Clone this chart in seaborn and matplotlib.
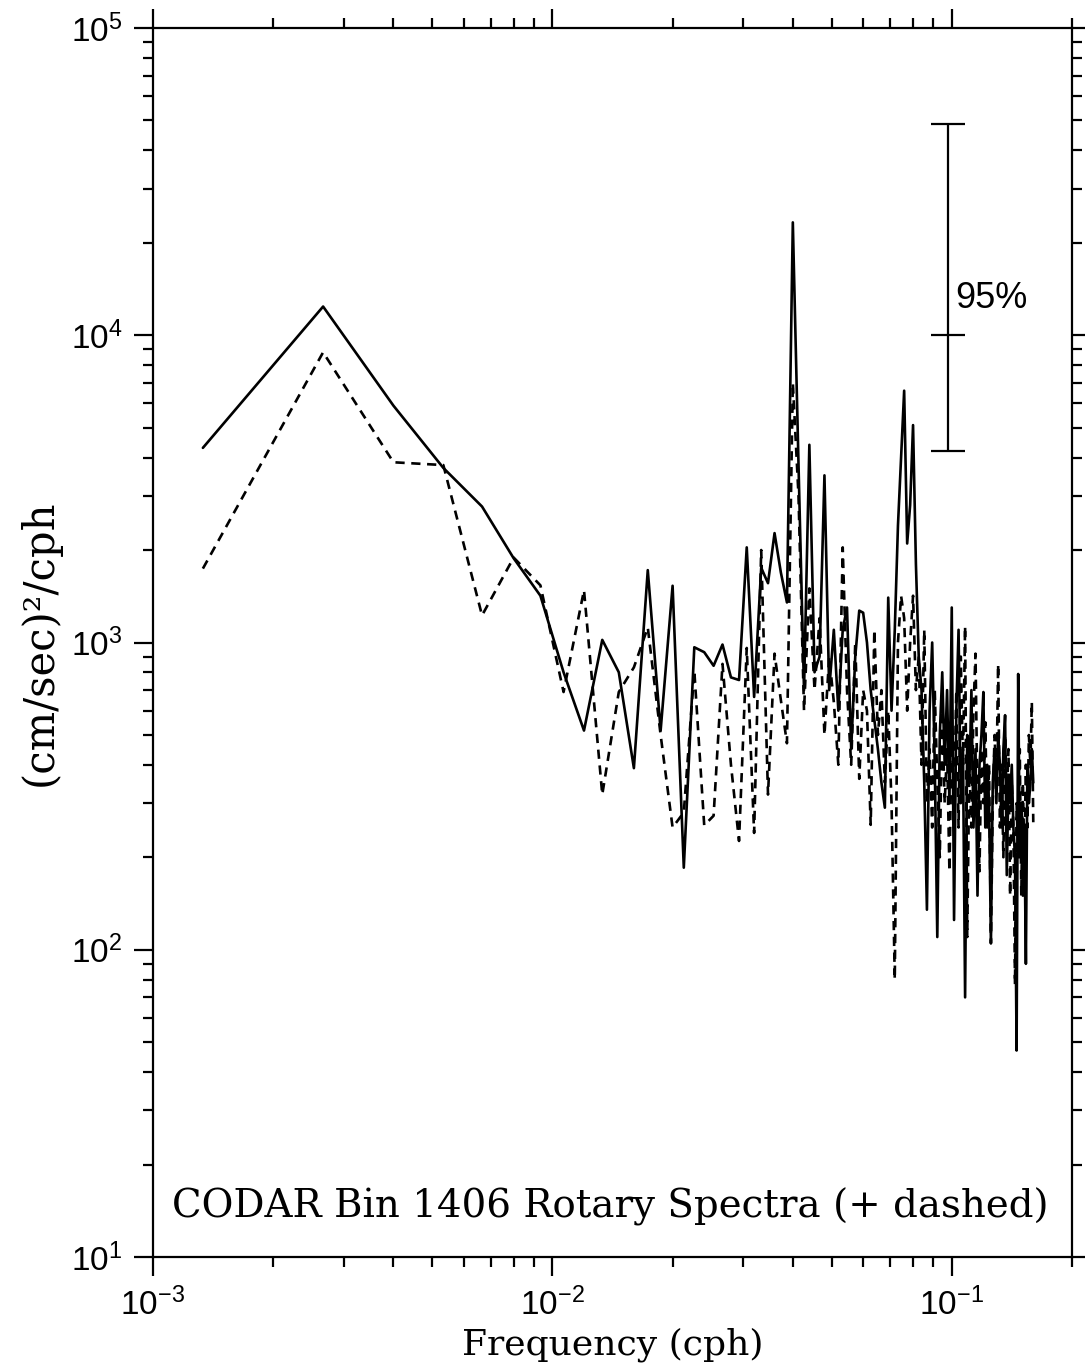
import numpy as np
import pandas as pd
import matplotlib
matplotlib.use("Agg")
import matplotlib.pyplot as plt
import seaborn as sns

# Spectral bins: harmonics of a 750-hour record, 120 bins
record_hours = 750
bin_index = np.arange(1, 121)

# Clockwise (solid) rotary spectrum, (cm/sec)^2/cph
spec_minus = [
    4300, 12400, 5900, 3700, 2770, 1880, 1420, 800, 517, 1020,
    800, 390, 1720, 517, 1530, 185, 965, 930, 840, 985,
    770, 755, 2040, 665, 1750, 1560, 2270, 1690, 1350, 23300,
    3800, 700, 4400, 800, 900, 3500, 700, 1100, 600, 1100,
    1300, 450, 900, 1270, 1250, 1000, 700, 560, 450, 350,
    290, 1400, 600, 1100, 2400, 4000, 6600, 2100, 2800, 5100,
    1800, 900, 700, 350, 135, 600, 1000, 400, 110, 500,
    800, 400, 700, 300, 1300, 125, 600, 1100, 300, 450,
    70, 500, 350, 700, 250, 450, 150, 400, 500, 690,
    250, 400, 300, 105, 350, 450, 300, 500, 400, 250,
    450, 580, 175, 350, 300, 400, 250, 200, 47, 790,
    200, 300, 150, 250, 90, 400, 300, 350, 450, 350,
]

# Counter-clockwise (+, dashed) rotary spectrum
spec_plus = [
    1740, 8800, 3860, 3780, 1225, 1890, 1535, 690, 1480, 320,
    690, 830, 1120, 500, 250, 280, 810, 254, 273, 852,
    400, 226, 960, 240, 2000, 320, 920, 650, 470, 7000,
    3000, 600, 1500, 700, 1200, 500, 900, 640, 400, 2040,
    700, 400, 1000, 360, 700, 600, 255, 1100, 500, 700,
    350, 600, 300, 80, 1000, 1420, 1200, 600, 1000, 1420,
    700, 900, 400, 1100, 300, 450, 250, 700, 350, 200,
    600, 300, 450, 180, 500, 300, 700, 250, 900, 400,
    1130, 110, 400, 250, 600, 920, 300, 180, 450, 300,
    550, 250, 400, 105, 300, 500, 350, 850, 250, 400,
    200, 500, 300, 450, 150, 350, 250, 77, 300, 200,
    450, 150, 350, 200, 400, 250, 500, 400, 640, 260,
]

# 95% confidence interval bar
ci_freq = 0.098
ci_center = 1.0e4
ci_low, ci_high = 4200, 48700

x_ticks = [1e-3, 1e-2, 1e-1]
x_tick_labels = [r"$\mathregular{10^{-3}}$", r"$\mathregular{10^{-2}}$", r"$\mathregular{10^{-1}}$"]
y_ticks = [1e1, 1e2, 1e3, 1e4, 1e5]
y_tick_labels = [r"$\mathregular{10^{%d}}$" % p for p in range(1, 6)]

freq = bin_index / record_hours
df = pd.DataFrame({"freq": freq, "minus": spec_minus, "plus": spec_plus})

sns.set_theme(style="ticks")
plt.rcParams["font.family"] = ["Liberation Sans", "DejaVu Sans"]
plt.rcParams["mathtext.fontset"] = "custom"
plt.rcParams["mathtext.rm"] = "Liberation Sans"
plt.rcParams["text.color"] = "black"
plt.rcParams["axes.labelcolor"] = "black"
plt.rcParams["xtick.color"] = "black"
plt.rcParams["ytick.color"] = "black"

fig = plt.figure(figsize=(10.85, 13.72), dpi=100)
ax = fig.add_axes([0.141, 0.0838, 0.847, 0.8958])

sns.lineplot(data=df, x="freq", y="minus", ax=ax, color="black", lw=1.9,
             sort=False, estimator=None)
sns.lineplot(data=df, x="freq", y="plus", ax=ax, color="black", lw=1.9,
             sort=False, estimator=None, dashes=False, linestyle=(0, (3.5, 2.5)))

ax.set_xscale("log")
ax.set_yscale("log")
ax.set_xlim(1e-3, 0.2)
ax.set_ylim(10, 1e5)

ax.errorbar([ci_freq], [ci_center],
            yerr=[[ci_center - ci_low], [ci_high - ci_center]],
            fmt="_", color="black", ms=24, mew=1.6, elinewidth=1.6,
            capsize=12, capthick=1.6)
ax.text(0.1022, 12300, "95%", fontsize=26, ha="left", va="baseline",
        color="black", family=["Liberation Sans", "DejaVu Sans"])

ax.text(0.0207, 0.0325, "CODAR Bin 1406 Rotary Spectra (+ dashed)",
        transform=ax.transAxes, fontsize=27.9, ha="left", va="baseline",
        color="black", family=["DejaVu Serif"])

ax.set_xticks(x_ticks)
ax.set_xticklabels(x_tick_labels)
ax.set_yticks(y_ticks)
ax.set_yticklabels(y_tick_labels)
ax.xaxis.set_minor_locator(matplotlib.ticker.LogLocator(base=10, subs=np.arange(2, 10)))
ax.yaxis.set_minor_locator(matplotlib.ticker.LogLocator(base=10, subs=np.arange(2, 10)))
ax.xaxis.set_minor_formatter(matplotlib.ticker.NullFormatter())
ax.yaxis.set_minor_formatter(matplotlib.ticker.NullFormatter())

ax.tick_params(which="both", direction="out", top=True, right=True,
               color="black", width=1.6, labelsize=24, labelcolor="black")
ax.tick_params(which="major", length=14, pad=8)
ax.tick_params(which="minor", length=7)
for side in ["left", "right", "top", "bottom"]:
    ax.spines[side].set_visible(True)
    ax.spines[side].set_linewidth(1.6)
    ax.spines[side].set_color("black")

ax.set_xlabel("Frequency (cph)", fontsize=26, family=["DejaVu Serif"],
              color="black", labelpad=4)
ax.set_ylabel("(cm/sec)²/cph", fontsize=30, family=["DejaVu Serif"],
              color="black")
ax.yaxis.set_label_coords(-0.100, 0.5)

fig.savefig("out.png", dpi=100, facecolor="white")
